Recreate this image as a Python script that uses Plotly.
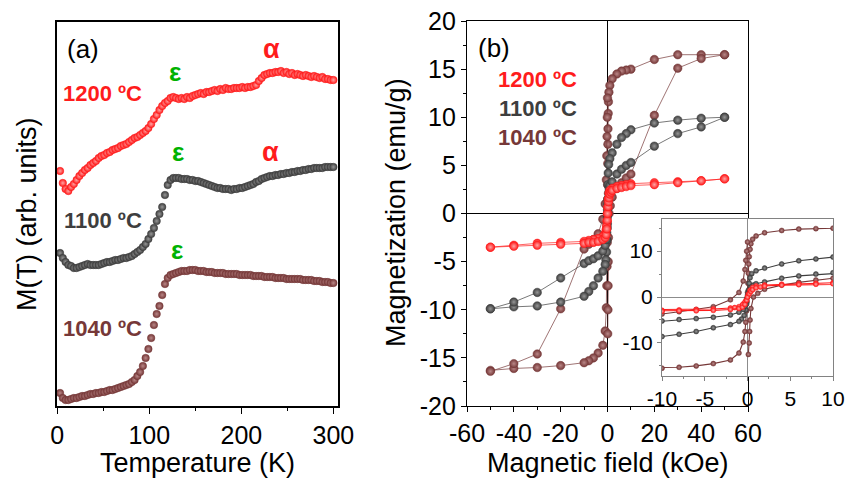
import plotly.graph_objects as go

W, H = 846, 482
FONT = "Liberation Sans, Arial, sans-serif"

# ---------------- Panel (a): M(T) curves (arb. units) ----------------
T = [3, 6, 9, 12, 15, 18, 21, 24, 27, 30, 33, 36, 39, 42, 45, 48, 51, 54, 57, 60,
     63, 66, 69, 72, 75, 78, 81, 84, 87, 90, 93, 96, 99, 102, 105, 108, 111, 114, 117, 120,
     123, 126, 129, 132, 135, 138, 141, 144, 147, 150, 153, 156, 159, 162, 165, 168, 171, 174, 177, 180,
     183, 186, 189, 192, 195, 198, 201, 204, 207, 210, 213, 216, 219, 222, 225, 228, 231, 234, 237, 240,
     243, 246, 249, 252, 255, 258, 261, 264, 267, 270, 273, 276, 279, 282, 285, 288, 291, 294, 297, 300]

M_1200 = [235, 223, 217, 215, 219, 222, 226, 230, 233, 236, 238, 241, 243, 245, 248, 250, 251, 253, 254, 256,
          257, 258, 260, 261, 262, 264, 266, 268, 269, 271, 273, 275, 278, 282, 287, 291, 296, 300, 303, 305,
          308, 309, 308, 307, 308, 307, 309, 308, 310, 311, 312, 313, 312, 314, 314, 315, 316, 315, 317, 316,
          318, 317, 317, 318, 318, 318, 319, 318, 319, 319, 320, 321, 325, 328, 331, 332, 333, 333, 334, 334,
          335, 333, 334, 332, 333, 331, 332, 331, 330, 331, 330, 329, 330, 329, 328, 329, 327, 327, 326, 326]

M_1100 = [153, 148, 144, 141, 140, 138, 138, 139, 140, 141, 142, 141, 141, 141, 141, 142, 143, 144, 144, 145,
          146, 146, 147, 148, 148, 149, 150, 152, 154, 156, 159, 162, 167, 172, 178, 185, 192, 199, 211, 221,
          226, 228, 228, 228, 227, 227, 227, 226, 226, 225, 225, 224, 223, 222, 221, 220, 219, 218, 218, 217,
          217, 217, 216, 217, 217, 218, 218, 219, 220, 221, 222, 224, 225, 227, 228, 229, 230, 230, 231, 231,
          232, 232, 233, 233, 234, 234, 235, 235, 236, 236, 237, 237, 238, 238, 238, 238, 239, 239, 239, 239]

M_1040 = [13, 8, 6, 6, 7, 8, 8, 9, 10, 10, 11, 12, 12, 13, 13, 14, 14, 15, 16, 16,
          17, 18, 19, 20, 21, 22, 24, 26, 30, 34, 40, 48, 57, 68, 81, 92, 100, 111, 122, 128,
          131, 132, 133, 134, 135, 135, 135, 136, 136, 136, 135, 135, 135, 134, 134, 134, 133, 133, 133, 133,
          132, 132, 132, 132, 132, 131, 131, 131, 131, 131, 130, 130, 130, 130, 129, 129, 129, 129, 128, 128,
          128, 128, 127, 127, 127, 127, 127, 127, 126, 126, 126, 126, 125, 125, 125, 124, 124, 124, 123, 123]

# ---------------- Panel (b): hysteresis loops (kOe, emu/g) ----------------
H_red_desc = [50, 40, 30, 20, 10, 8, 6, 4, 2, 1, 0.6, 0.3, 0.1, 0, -0.2, -0.4, -0.6, -1, -1.5, -2,
              -4, -6, -8, -10, -20, -30, -40, -50]
M_red_desc = [3.6, 3.4, 3.3, 3.2, 3.1, 3.0, 2.9, 2.8, 2.6, 2.4, 2.1, 1.5, 0.6, 0.0, -0.8, -1.3, -1.7, -2.1, -2.3, -2.4,
              -2.6, -2.7, -2.8, -2.9, -3.0, -3.1, -3.3, -3.5]
H_red_asc = [-50, -40, -30, -20, -10, -8, -6, -4, -2, -1, -0.6, -0.3, -0.1, 0, 0.2, 0.4, 0.6, 1, 1.5, 2,
             4, 6, 8, 10, 20, 30, 40, 50]
M_red_asc = [-3.5, -3.4, -3.3, -3.2, -3.1, -3.0, -3.0, -2.9, -2.7, -2.5, -2.2, -1.6, -0.7, 0.0, 0.7, 1.2, 1.6, 2.0, 2.2, 2.4,
             2.6, 2.7, 2.8, 2.9, 3.0, 3.2, 3.4, 3.6]

H_gray_desc = [50, 40, 30, 20, 10, 8, 6, 4, 2, 1, 0.5, 0.3, 0.2, 0.1, 0, -0.1, -0.2, -0.4, -0.7, -1,
               -2, -4, -6, -8, -10, -20, -30, -40, -50]
M_gray_desc = [10.0, 9.9, 9.7, 9.4, 8.7, 8.3, 7.9, 7.2, 6.3, 5.7, 5.1, 4.2, 3.0, 1.5, 0.0, -1.5, -2.8, -4.0, -4.8, -5.3,
               -6.0, -6.7, -7.5, -8.1, -8.6, -9.2, -9.6, -9.7, -9.9]
H_gray_asc = [-50, -40, -30, -20, -10, -8, -6, -4, -2, -1, -0.5, -0.3, -0.2, -0.1, 0, 0.1, 0.2, 0.4, 0.7, 1,
              2, 4, 6, 8, 10, 20, 30, 40, 50]
M_gray_asc = [-9.9, -9.2, -8.2, -6.7, -5.2, -4.9, -4.7, -4.4, -3.9, -3.3, -2.7, -2.0, -1.2, -0.4, 0.4, 1.0, 1.5, 2.1, 2.6, 2.9,
              3.3, 4.1, 4.6, 5.0, 5.3, 7.0, 8.3, 9.0, 10.0]

H_brown_desc = [50, 40, 30, 20, 10, 8, 6, 4, 2, 1, 0.6, 0.4, 0.3, 0.2, 0.15, 0.1, 0.05, 0, -0.05, -0.1,
                -0.2, -0.3, -0.5, -1, -2, -4, -6, -8, -10, -20, -30, -40, -50]
M_brown_desc = [16.5, 16.5, 16.5, 16.0, 15.0, 14.9, 14.8, 14.5, 14.0, 13.3, 12.6, 11.6, 10.4, 8.8, 7.2, 5.2, 3.0, 1.0, -1.0, -3.0,
                -5.5, -7.5, -9.8, -12.2, -13.7, -14.5, -15.0, -15.3, -15.5, -15.8, -16.0, -16.1, -16.3]
H_brown_up = [-50, -40, -30, -20, -10, -8, -6, -4, -2, -1, -0.5, -0.3, -0.2, -0.1, 0]
M_brown_up = [-16.4, -15.6, -14.6, -9.9, -3.7, -3.2, -2.7, -2.1, -0.6, 1.0, 3.5, 6.0, 8.0, 10.0, 12.0]
H_brown_rise = [0.1, 0.2, 0.25, 0.3, 0.4, 0.7, 1.2, 2, 4, 6, 8, 10, 20, 30, 40, 50]
M_brown_rise = [-12.5, -10.0, -7.5, -5.0, -2.5, 0.0, 0.8, 1.7, 2.6, 3.2, 3.7, 4.1, 10.2, 15.1, 16.1, 16.5]

main_x_ticks = [-60, -40, -20, 0, 20, 40, 60]
main_x_text = ["-60", "-40", "-20", "0", "20", "40", "60"]
main_y_ticks = [-20, -15, -10, -5, 0, 5, 10, 15, 20]
main_y_text = ["-20", "-15", "-10", "-5", "0", "5", "10", "15", "20"]
inset_x_ticks = [-10, -5, 0, 5, 10]
inset_x_text = ["-10", "-5", "0", "5", "10"]
inset_y_ticks = [-10, 0, 10]
inset_y_text = ["-10", "0", "10"]
temp_ticks = [0, 100, 200, 300]

RED = "rgb(255,28,28)"
RED_L = "rgb(255,165,165)"
GRAY = "rgb(62,62,62)"
GRAY_L = "rgb(150,150,150)"
BROWN = "rgb(118,56,56)"
BROWN_L = "rgb(185,135,135)"
GREEN = "rgb(0,178,0)"


def sphere(color, light, size):
    return dict(color=color, size=size, gradient=dict(type="radial", color=light),
                line=dict(width=0.5, color=color))


fig = go.Figure()

# panel (a)
for vals, c, l in [(M_1040, BROWN, BROWN_L), (M_1100, GRAY, GRAY_L), (M_1200, RED, RED_L)]:
    fig.add_trace(go.Scatter(x=T, y=vals, mode="markers", marker=sphere(c, l, 7.5),
                             xaxis="x", yaxis="y", showlegend=False, hoverinfo="skip"))

# panel (b) main + inset
loops = [
    (H_brown_desc, M_brown_desc, BROWN, BROWN_L),
    (H_brown_up, M_brown_up, BROWN, BROWN_L),
    (H_brown_rise, M_brown_rise, BROWN, BROWN_L),
    (H_gray_desc, M_gray_desc, GRAY, GRAY_L),
    (H_gray_asc, M_gray_asc, GRAY, GRAY_L),
    (H_red_desc, M_red_desc, RED, RED_L),
    (H_red_asc, M_red_asc, RED, RED_L),
]
for hx, my, c, l in loops:
    fig.add_trace(go.Scatter(x=hx, y=my, mode="lines+markers", marker=sphere(c, l, 8.5),
                             line=dict(color=c, width=0.7),
                             xaxis="x2", yaxis="y2", showlegend=False, hoverinfo="skip"))
for hx, my, c, l in loops:
    fig.add_trace(go.Scatter(x=hx, y=my, mode="lines+markers", marker=sphere(c, l, 5),
                             line=dict(color=c, width=1.1),
                             xaxis="x3", yaxis="y3", showlegend=False, hoverinfo="skip"))


def px(x):
    return x / W


def py(y):
    return 1 - y / H


ann = []


def text(x, y, s, size, color="black", bold=False, angle=0):
    ann.append(dict(x=px(x), y=py(y), xref="paper", yref="paper", text=("<b>%s</b>" % s) if bold else s,
                    showarrow=False, xanchor="center", yanchor="middle", textangle=angle,
                    font=dict(family=FONT, size=size, color=color)))


text(83, 49, "(a)", 26)
text(175, 72, "ε", 26, GREEN, bold=True)
text(271, 49, "α", 27, RED, bold=True)
text(102.5, 94, "1200 ºC", 22, RED, bold=True)
text(177.5, 152, "ε", 26, GREEN, bold=True)
text(270, 152, "α", 27, RED, bold=True)
text(102.5, 221, "1100 ºC", 22, GRAY, bold=True)
text(176.5, 250, "ε", 26, GREEN, bold=True)
text(102.5, 328, "1040 ºC", 22, BROWN, bold=True)

text(494, 48, "(b)", 26)
text(537.5, 80, "1200 ºC", 22, RED, bold=True)
text(537.5, 108.5, "1100 ºC", 22, GRAY, bold=True)
text(537.5, 137, "1040 ºC", 22, BROWN, bold=True)

text(197.5, 463, "Temperature (K)", 27)
text(27, 214, "M(T) (arb. units)", 27, angle=-90)
text(607.5, 463, "Magnetic field (kOe)", 27)
text(396, 213, "Magnetization (emu/g)", 27, angle=-90)

tickfont = dict(family=FONT, size=25, color="black")
inset_font = dict(family=FONT, size=21, color="black")

fig.update_layout(
    width=W, height=H, autosize=False,
    margin=dict(l=0, r=0, t=0, b=0, pad=0, autoexpand=False),
    paper_bgcolor="white", plot_bgcolor="white",
    annotations=ann,
    xaxis=dict(domain=[57 / W, 338 / W], range=[-0.3, 305], anchor="y", automargin=False,
               showline=True, mirror=True, linecolor="black", linewidth=1.6,
               ticks="outside", ticklen=6, tickwidth=1.4, tickcolor="black",
               tickmode="array", tickvals=temp_ticks,
               minor=dict(ticks="outside", ticklen=3, dtick=50, tick0=0, tickcolor="black", tickwidth=1.2),
               showgrid=False, zeroline=False, tickfont=tickfont),
    yaxis=dict(domain=[1 - 406 / H, 1 - 22 / H], range=[0, 384], anchor="x", automargin=False,
               showline=True, mirror=True, linecolor="black", linewidth=1.6,
               showticklabels=False, ticks="", showgrid=False, zeroline=False),
    xaxis2=dict(domain=[467 / W, 748 / W], range=[-60, 60], anchor="y2", automargin=False,
                showline=True, mirror=True, linecolor="black", linewidth=1.4,
                ticks="outside", ticklen=5, tickwidth=1.3, tickcolor="black",
                tickmode="array", tickvals=main_x_ticks, ticktext=main_x_text,
                minor=dict(ticks="outside", ticklen=3, dtick=10, tick0=0, tickcolor="black"),
                showgrid=False, zeroline=True, zerolinecolor="black", zerolinewidth=1, tickfont=tickfont),
    yaxis2=dict(domain=[1 - 406 / H, 1 - 21 / H], range=[-20, 20], anchor="x2", automargin=False,
                showline=True, mirror=True, linecolor="black", linewidth=1.4,
                ticks="outside", ticklen=5, tickwidth=1.3, tickcolor="black",
                tickmode="array", tickvals=main_y_ticks, ticktext=main_y_text,
                minor=dict(ticks="outside", ticklen=3, dtick=2.5, tick0=0, tickcolor="black"),
                showgrid=False, zeroline=True, zerolinecolor="black", zerolinewidth=1, tickfont=tickfont),
    xaxis3=dict(domain=[662 / W, 833 / W], range=[-10, 10], anchor="y3", automargin=False,
                showline=True, mirror=True, linecolor="rgb(130,130,130)", linewidth=1,
                ticks="outside", ticklen=4, tickwidth=1, tickcolor="rgb(130,130,130)",
                tickmode="array", tickvals=inset_x_ticks, ticktext=inset_x_text,
                minor=dict(ticks="outside", ticklen=2, dtick=2.5, tick0=0, tickcolor="rgb(130,130,130)"),
                showgrid=False, zeroline=True, zerolinecolor="rgb(140,140,140)", zerolinewidth=1,
                tickfont=inset_font),
    yaxis3=dict(domain=[1 - 376 / H, 1 - 219 / H], range=[-17.2, 17.0], anchor="x3", automargin=False,
                showline=True, mirror=True, linecolor="rgb(130,130,130)", linewidth=1,
                ticks="outside", ticklen=4, tickwidth=1, tickcolor="rgb(130,130,130)",
                tickmode="array", tickvals=inset_y_ticks, ticktext=inset_y_text,
                minor=dict(ticks="outside", ticklen=2, dtick=5, tick0=0, tickcolor="rgb(130,130,130)"),
                showgrid=False, zeroline=True, zerolinecolor="rgb(140,140,140)", zerolinewidth=1,
                tickfont=inset_font),
)

fig.write_html("out.html", config={"displayModeBar": False},
               post_script="document.body.style.margin='0';document.body.style.padding='0';"
                           "document.documentElement.style.overflow='hidden';")
